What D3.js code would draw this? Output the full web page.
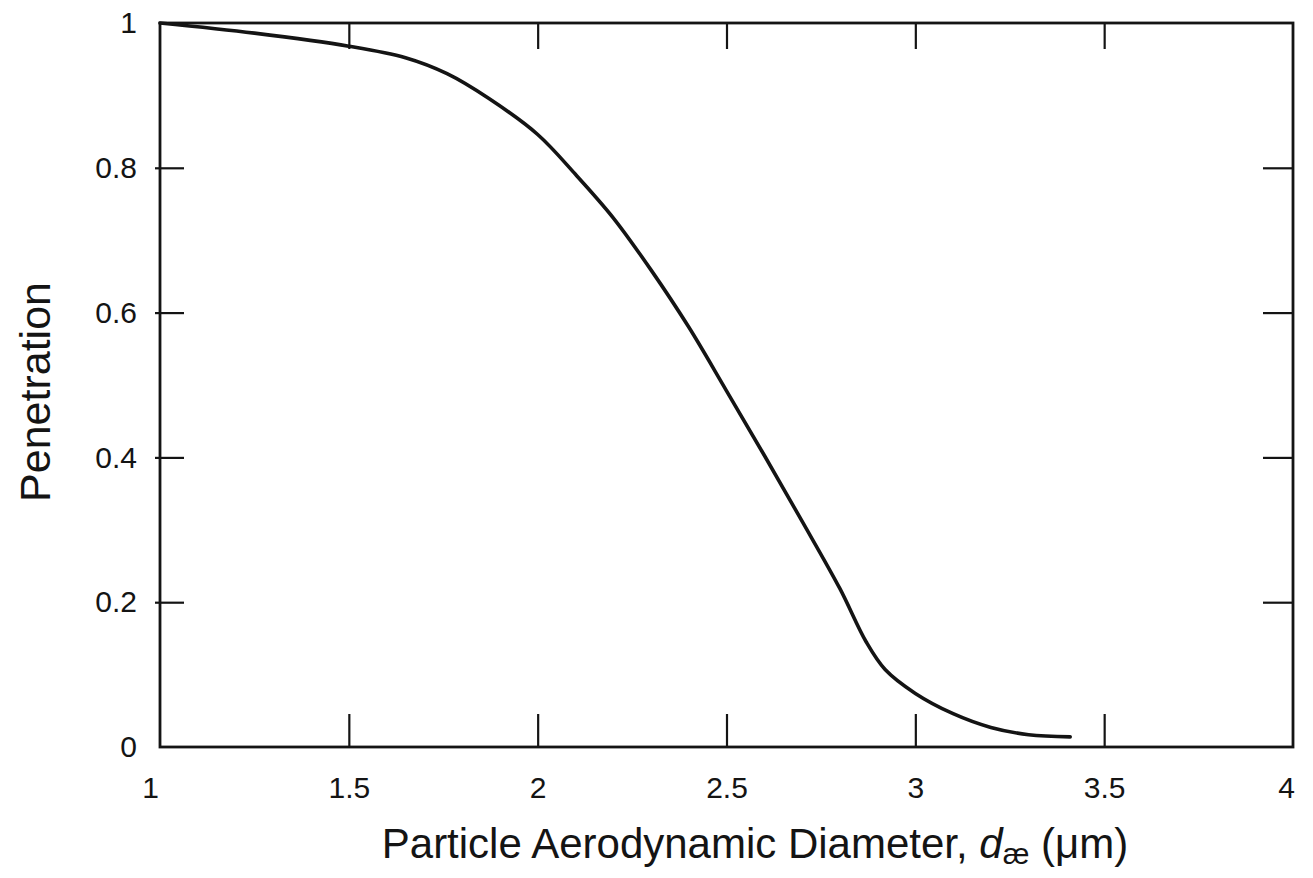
<!DOCTYPE html>
<html>
<head>
  <meta charset="utf-8">
  <script src="https://d3js.org/d3.v7.min.js"></script>
  <style>
  body { margin: 0; background: #fff; }
  svg text { font-family: "Liberation Sans", Arial, sans-serif; fill: #141414; }
  .axis path { display: none; }
  .axis line { stroke: #141414; stroke-width: 2.2; }
  </style>
</head>
<body>
<script>
// particle aerodynamic diameter (um) and penetration
var diameter    = [1.0, 1.25, 1.5, 1.65, 1.76, 1.87, 2.0, 2.1, 2.2, 2.3, 2.4, 2.5, 2.6, 2.7, 2.8, 2.87, 2.92, 3.0, 3.1, 3.2, 3.3, 3.41];
var penetration = [1.0, 0.986, 0.968, 0.952, 0.93, 0.896, 0.846, 0.791, 0.731, 0.659, 0.58, 0.492, 0.403, 0.312, 0.219, 0.145, 0.107, 0.074, 0.046, 0.027, 0.017, 0.014];

var xTicks = [1, 1.5, 2, 2.5, 3, 3.5, 4];
var xTickLabels = ["1", "1.5", "2", "2.5", "3", "3.5", "4"];
var yTicks = [0, 0.2, 0.4, 0.6, 0.8, 1];
var yTickLabels = ["0", "0.2", "0.4", "0.6", "0.8", "1"];

var W = 1313, H = 878;
var margin = {top: 23, right: 20, bottom: 131, left: 160};
var width = W - margin.left - margin.right,
    height = H - margin.top - margin.bottom;

var svg = d3.select("body").append("svg")
    .attr("width", W).attr("height", H);
var g = svg.append("g")
    .attr("transform", "translate(" + margin.left + "," + margin.top + ")");

var x = d3.scaleLinear().domain([1, 4]).range([0, width]);
var y = d3.scaleLinear().domain([0, 1]).range([height, 0]);

// inward ticks on all four sides
g.append("g").attr("class", "axis")
  .attr("transform", "translate(0," + height + ")")
  .call(d3.axisBottom(x).tickValues(xTicks.slice(1, -1)).tickSize(-33).tickFormat(""));
g.append("g").attr("class", "axis")
  .call(d3.axisTop(x).tickValues(xTicks.slice(1, -1)).tickSize(-26).tickFormat(""));
g.append("g").attr("class", "axis")
  .call(d3.axisLeft(y).tickValues(yTicks.slice(1, -1)).tickSize(-24).tickFormat(""));
g.append("g").attr("class", "axis")
  .call(d3.axisLeft(y).tickValues(yTicks.slice(1, -1)).tickSize(5).tickFormat(""));
g.append("g").attr("class", "axis")
  .attr("transform", "translate(" + width + ",0)")
  .call(d3.axisRight(y).tickValues(yTicks.slice(1, -1)).tickSize(-30).tickFormat(""));

// tick labels
var xl = g.append("g")
  .attr("transform", "translate(0," + height + ")")
  .call(d3.axisBottom(x).tickValues(xTicks).tickSize(0).tickPadding(30)
    .tickFormat(function(d, i) { return xTickLabels[i]; }));
xl.select(".domain").remove();
xl.selectAll("text").style("font-size", "30px")
  .attr("dx", function(d, i) { return i === 0 ? -10 : (i === xTicks.length - 1 ? -7 : 0); });

var yl = g.append("g")
  .call(d3.axisLeft(y).tickValues(yTicks).tickSize(0).tickPadding(23)
    .tickFormat(function(d, i) { return yTickLabels[i]; }));
yl.select(".domain").remove();
yl.selectAll("text").style("font-size", "30px");

// frame
g.append("rect")
  .attr("width", width).attr("height", height)
  .attr("fill", "none").attr("stroke", "#141414").attr("stroke-width", 2.8);

// curve
var pts = diameter.map(function(d, i) { return [d, penetration[i]]; });
g.append("path")
  .datum(pts)
  .attr("fill", "none")
  .attr("stroke", "#141414")
  .attr("stroke-width", 3.6)
  .attr("stroke-linecap", "round")
  .attr("d", d3.line()
    .x(function(d) { return x(d[0]); })
    .y(function(d) { return y(d[1]); })
    .curve(d3.curveCatmullRom.alpha(0.5)));

// axis titles
var xt = svg.append("text")
  .attr("x", 755).attr("y", 858)
  .attr("text-anchor", "middle")
  .style("font-size", "42px");
xt.append("tspan").text("Particle Aerodynamic Diameter, ");
xt.append("tspan").style("font-style", "italic").text("d");
xt.append("tspan").style("font-size", "30px").attr("dy", 6).text("æ");
xt.append("tspan").attr("dy", -6).text(" (μm)");

svg.append("text")
  .attr("transform", "translate(50,392) rotate(-90)")
  .attr("text-anchor", "middle")
  .style("font-size", "43px")
  .text("Penetration");
</script>
</body>
</html>
